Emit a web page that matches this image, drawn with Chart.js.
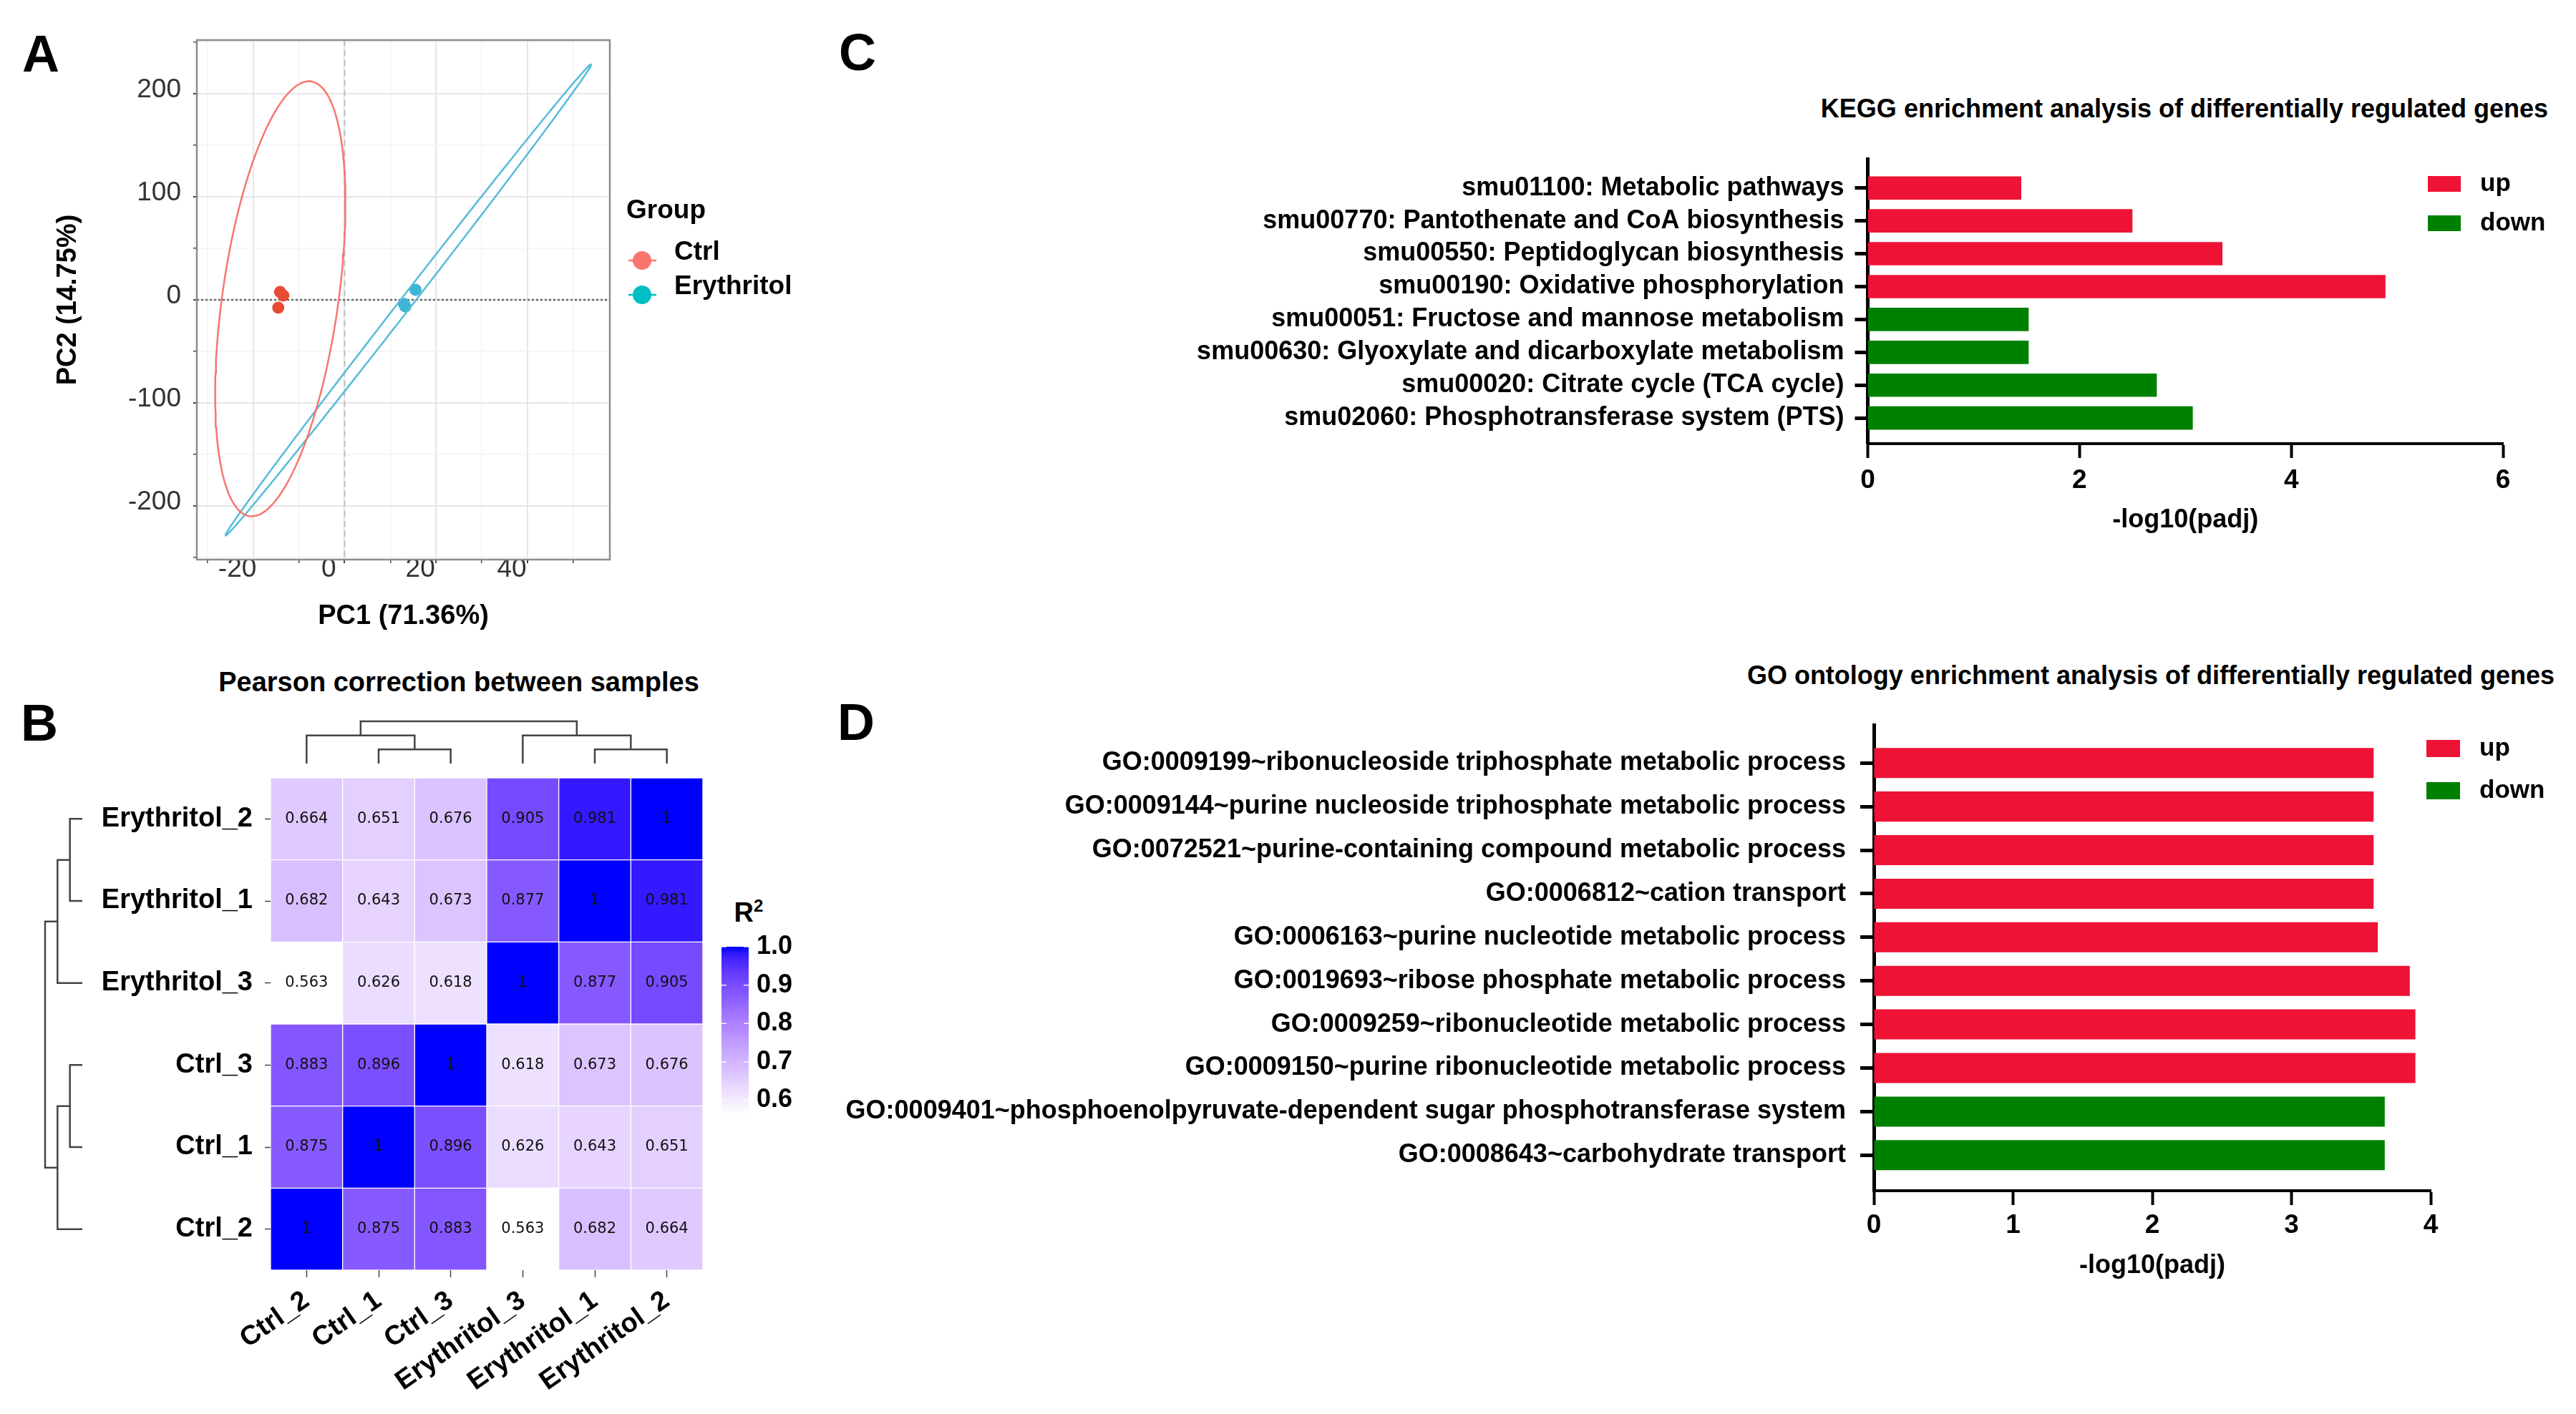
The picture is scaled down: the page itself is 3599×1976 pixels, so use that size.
<!DOCTYPE html>
<html>
<head>
<meta charset="utf-8">
<script src="https://cdn.jsdelivr.net/npm/chart.js@4.4.1/dist/chart.umd.min.js"></script>
<style>
  body { margin: 0; background: #fff; width: 3599px; height: 1976px; position: relative; overflow: hidden;
         font-family: 'Liberation Sans', Arial, sans-serif; }
  canvas { position: absolute; }
  .txt { position: absolute; transform: translate(-50%, -50%); white-space: nowrap; font-weight: bold; line-height: 1; color: #000; }
</style>
</head>
<body>
<div class="txt" style="left:57px;top:75px;font-size:72px">A</div>
<div class="txt" style="left:55px;top:1010px;font-size:72px">B</div>
<div class="txt" style="left:1198px;top:73px;font-size:72px">C</div>
<div class="txt" style="left:1196px;top:1009px;font-size:72px">D</div>
<div class="txt" style="left:641px;top:953px;font-size:38px">Pearson correction between samples</div>
<div class="txt" style="left:3052px;top:152px;font-size:36px">KEGG enrichment analysis of differentially regulated genes</div>
<div class="txt" style="left:3005px;top:944px;font-size:36px">GO ontology enrichment analysis of differentially regulated genes</div>
<div class="txt" style="left:1046px;top:1274px;font-size:38px">R<sup style="font-size:24px;vertical-align:14px">2</sup></div>

<canvas id="pca" style="left:40px;top:0px" width="1160" height="900"></canvas>
<canvas id="heat" style="left:0px;top:1037px" width="1200" height="939"></canvas>
<canvas id="dendTop" style="left:358px;top:995px" width="644" height="85"></canvas>
<canvas id="dendLeft" style="left:50px;top:1070px" width="78" height="722"></canvas>
<canvas id="cbar" style="left:990px;top:1290px" width="210" height="300"></canvas>
<canvas id="kegg" style="left:1150px;top:100px" width="2449" height="700"></canvas>
<canvas id="go" style="left:1100px;top:900px" width="2499" height="1076"></canvas>

<script>
// ---------- A: PCA ----------
const pcaGroups = ['Ctrl', 'Erythritol'];
const ctrlPC1 = [-14.1, -13.4, -14.5];
const ctrlPC2 = [7.6, 4.2, -7.6];
const eryPC1 = [13.0, 13.3, 15.5];
const eryPC2 = [-4.0, -6.5, 9.7];
const pcaXTicks = [-20, 0, 20, 40];
const pcaYTicks = [-200, -100, 0, 100, 200];
const pcaXRange = [-32.3, 58];
const pcaYRange = [-252, 252];
// confidence ellipses: centre, then two conjugate semi-axes (data units)
const ctrlEllipse = [[-14.05, 1], [6.25, 211], [12.8, 0]];
const eryEllipse = [[13.95, 0], [39.95, 228.6], [1.7, 0]];

// ---------- B: correlation heatmap ----------
const sampleCols = ['Ctrl_2', 'Ctrl_1', 'Ctrl_3', 'Erythritol_3', 'Erythritol_1', 'Erythritol_2'];
const sampleRows = ['Erythritol_2', 'Erythritol_1', 'Erythritol_3', 'Ctrl_3', 'Ctrl_1', 'Ctrl_2'];
const r2Erythritol2 = [0.664, 0.651, 0.676, 0.905, 0.981, 1];
const r2Erythritol1 = [0.682, 0.643, 0.673, 0.877, 1, 0.981];
const r2Erythritol3 = [0.563, 0.626, 0.618, 1, 0.877, 0.905];
const r2Ctrl3 = [0.883, 0.896, 1, 0.618, 0.673, 0.676];
const r2Ctrl1 = [0.875, 1, 0.896, 0.626, 0.643, 0.651];
const r2Ctrl2 = [1, 0.875, 0.883, 0.563, 0.682, 0.664];
const r2Ticks = [0.6, 0.7, 0.8, 0.9, 1.0];
// hclust style merges: negative = leaf (1-based), positive = earlier merge
const rowMerge = [[-1, -2], [-3, 1], [-4, -5], [-6, 3], [2, 4]];
const rowHeight = [1, 2, 1, 2, 3];
const colMerge = [[-2, -3], [-1, 1], [-5, -6], [-4, 3], [2, 4]];
const colHeight = [1, 2, 1, 2, 3];

// ---------- C: KEGG ----------
const keggTerms = ['smu01100: Metabolic pathways', 'smu00770: Pantothenate and CoA biosynthesis',
  'smu00550: Peptidoglycan biosynthesis', 'smu00190: Oxidative phosphorylation',
  'smu00051: Fructose and mannose metabolism', 'smu00630: Glyoxylate and dicarboxylate metabolism',
  'smu00020: Citrate cycle (TCA cycle)', 'smu02060: Phosphotransferase system (PTS)'];
const keggUp = [1.45, 2.50, 3.35, 4.89, null, null, null, null];
const keggDown = [null, null, null, null, 1.52, 1.52, 2.73, 3.07];

// ---------- D: GO ----------
const goTerms = ['GO:0009199~ribonucleoside triphosphate metabolic process',
  'GO:0009144~purine nucleoside triphosphate metabolic process',
  'GO:0072521~purine-containing compound metabolic process',
  'GO:0006812~cation transport',
  'GO:0006163~purine nucleotide metabolic process',
  'GO:0019693~ribose phosphate metabolic process',
  'GO:0009259~ribonucleotide metabolic process',
  'GO:0009150~purine ribonucleotide metabolic process',
  'GO:0009401~phosphoenolpyruvate-dependent sugar phosphotransferase system',
  'GO:0008643~carbohydrate transport'];
const goUp = [3.59, 3.59, 3.59, 3.59, 3.62, 3.85, 3.89, 3.89, null, null];
const goDown = [null, null, null, null, null, null, null, null, 3.67, 3.67];

const upColor = '#EE1234';
const downColor = '#008000';

Chart.defaults.font.family = "'Liberation Sans', Arial, sans-serif";
Chart.defaults.color = '#000';
Chart.defaults.animation = false;

// ---------------- helpers ----------------
function ellipsePts(e) {
  const [c, u, v] = e, pts = [];
  for (let k = 0; k <= 180; k++) {
    const t = k / 180 * 2 * Math.PI;
    pts.push({x: c[0] + u[0] * Math.cos(t) + v[0] * Math.sin(t), y: c[1] + u[1] * Math.cos(t) + v[1] * Math.sin(t)});
  }
  return pts;
}
const zip = (xs, ys) => xs.map((x, i) => ({x: x, y: ys[i]}));

// majors plus ggplot-like minor lines halfway between them
function withMinors(major, range) {
  const step = major[1] - major[0], out = [];
  for (let v = major[0] - step / 2; v <= major[major.length - 1] + step / 2 + 1e-9; v += step / 2) {
    if (v > range[0] && v < range[1]) out.push(v);
  }
  return out;
}

// white -> blue in CIE Lab, like scale_fill_gradient
function toLin(c) { c /= 255; return c <= 0.04045 ? c / 12.92 : Math.pow((c + 0.055) / 1.055, 2.4); }
function toSrgb(c) { c = Math.min(1, Math.max(0, c)); return Math.round(255 * (c <= 0.0031308 ? 12.92 * c : 1.055 * Math.pow(c, 1 / 2.4) - 0.055)); }
function rgb2lab(rgb) {
  const [r, g, b] = rgb.map(toLin);
  const X = (0.4124 * r + 0.3576 * g + 0.1805 * b) / 0.95047;
  const Y = 0.2126 * r + 0.7152 * g + 0.0722 * b;
  const Z = (0.0193 * r + 0.1192 * g + 0.9505 * b) / 1.08883;
  const f = t => t > 0.008856 ? Math.cbrt(t) : 7.787 * t + 16 / 116;
  return [116 * f(Y) - 16, 500 * (f(X) - f(Y)), 200 * (f(Y) - f(Z))];
}
function lab2rgb(lab) {
  const fy = (lab[0] + 16) / 116, fx = fy + lab[1] / 500, fz = fy - lab[2] / 200;
  const inv = t => t * t * t > 0.008856 ? t * t * t : (t - 16 / 116) / 7.787;
  const X = inv(fx) * 0.95047, Y = inv(fy), Z = inv(fz) * 1.08883;
  return [3.2406 * X - 1.5372 * Y - 0.4986 * Z, -0.9689 * X + 1.8758 * Y + 0.0415 * Z, 0.0557 * X - 0.2040 * Y + 1.0570 * Z].map(toSrgb);
}
const labLow = rgb2lab([255, 255, 255]), labHigh = rgb2lab([0, 0, 255]);
const r2Matrix = [r2Erythritol2, r2Erythritol1, r2Erythritol3, r2Ctrl3, r2Ctrl1, r2Ctrl2];
const r2Min = Math.min(...r2Matrix.flat()), r2Max = Math.max(...r2Matrix.flat());
function r2Color(v) {
  const t = Math.max(0, Math.min(1, (v - r2Min) / (r2Max - r2Min)));
  const c = lab2rgb(labLow.map((l, i) => l + (labHigh[i] - l) * t));
  return 'rgb(' + c.join(',') + ')';
}

function dendroSegments(merge, heights) {
  const pos = [];
  const nodePos = id => id < 0 ? -id - 1 : pos[id - 1];
  const nodeH = id => id < 0 ? 0 : heights[id - 1];
  return merge.map((m, i) => {
    const [a, b] = m;
    pos[i] = (nodePos(a) + nodePos(b)) / 2;
    return [[nodePos(a), nodeH(a)], [nodePos(a), heights[i]], [nodePos(b), heights[i]], [nodePos(b), nodeH(b)]];
  });
}

// ---------------- A ----------------
const pcaPlugin = {
  id: 'pcaExtras',
  beforeDatasetsDraw(chart) {
    const {ctx, chartArea: a, scales: {x, y}} = chart;
    ctx.save();
    ctx.lineWidth = 2;
    ctx.strokeStyle = '#BDBDBD';
    ctx.setLineDash([8, 6]);
    ctx.beginPath(); ctx.moveTo(x.getPixelForValue(0), a.top); ctx.lineTo(x.getPixelForValue(0), a.bottom); ctx.stroke();
    ctx.strokeStyle = '#666';
    ctx.lineWidth = 2.5;
    ctx.setLineDash([3, 3]);
    ctx.beginPath(); ctx.moveTo(a.left, y.getPixelForValue(0)); ctx.lineTo(a.right, y.getPixelForValue(0)); ctx.stroke();
    ctx.restore();
  },
  afterDraw(chart) {
    const {ctx, chartArea: a} = chart;
    ctx.save();
    ctx.strokeStyle = '#8C8C8C';
    ctx.lineWidth = 2.5;
    ctx.strokeRect(a.left, a.top, a.right - a.left, a.bottom - a.top);
    // legend
    const keyColors = ['#F8766D', '#00BFC4'];
    ctx.fillStyle = '#000';
    ctx.textBaseline = 'middle';
    ctx.font = "bold 37px 'Liberation Sans'";
    ctx.fillText('Group', a.right + 23, 295);
    pcaGroups.forEach((g, i) => {
      const ky = 364 + i * 48;
      ctx.strokeStyle = keyColors[i]; ctx.lineWidth = 2.5;
      ctx.beginPath(); ctx.moveTo(a.right + 26, ky); ctx.lineTo(a.right + 65, ky); ctx.stroke();
      ctx.fillStyle = keyColors[i];
      ctx.beginPath(); ctx.arc(a.right + 45, ky, 13, 0, 2 * Math.PI); ctx.fill();
      ctx.fillStyle = '#000';
      ctx.fillText(g, a.right + 90, ky - 11);
    });
    ctx.restore();
  }
};

const pcaGrid = major => ({
  drawTicks: true, tickLength: 5, tickColor: '#444',
  color: ctx => major.includes(ctx.tick.value) ? '#E6E6E6' : '#F3F3F3',
  lineWidth: ctx => major.includes(ctx.tick.value) ? 2 : 1.5
});

new Chart(document.getElementById('pca'), {
  type: 'scatter',
  data: {
    datasets: [
      {label: 'Ctrl ellipse', data: ellipsePts(ctrlEllipse), showLine: true, borderColor: '#F8766D', borderWidth: 2.5, pointRadius: 0, tension: 0},
      {label: 'Erythritol ellipse', data: ellipsePts(eryEllipse), showLine: true, borderColor: '#55BCD9', borderWidth: 2.5, pointRadius: 0, tension: 0},
      {label: pcaGroups[0], data: zip(ctrlPC1, ctrlPC2), backgroundColor: '#E64B35', pointRadius: 8.5, borderWidth: 0},
      {label: pcaGroups[1], data: zip(eryPC1, eryPC2), backgroundColor: '#3DB5D3', pointRadius: 8.5, borderWidth: 0}
    ]
  },
  options: {
    responsive: false,
    layout: {padding: {left: 0, top: 56, right: 348, bottom: 0}},
    plugins: {legend: {display: false}, tooltip: {enabled: false}},
    scales: {
      x: {
        type: 'linear', min: pcaXRange[0], max: pcaXRange[1],
        afterFit: s => { s.height = 118; },
        afterBuildTicks: s => { s.ticks = withMinors(pcaXTicks, pcaXRange).map(v => ({value: v})); },
        ticks: {callback: v => pcaXTicks.includes(v) ? String(v) : '', font: {size: 37, lineHeight: 0.7}, color: '#333', padding: -4, labelOffset: -22, maxRotation: 0, autoSkip: false},
        grid: pcaGrid(pcaXTicks),
        border: {display: false},
        title: {display: true, text: 'PC1 (71.36%)', font: {size: 38, weight: 'bold'}, padding: {top: 0, bottom: 16}}
      },
      y: {
        type: 'linear', min: pcaYRange[0], max: pcaYRange[1],
        afterFit: s => { s.width = 235; },
        afterBuildTicks: s => { s.ticks = withMinors(pcaYTicks, pcaYRange).map(v => ({value: v})); },
        ticks: {callback: v => pcaYTicks.includes(v) ? String(v) : '', font: {size: 37}, color: '#333', padding: 17, labelOffset: -5, autoSkip: false},
        grid: pcaGrid(pcaYTicks),
        border: {display: false},
        title: {display: true, text: 'PC2 (14.75%)', font: {size: 38, weight: 'bold'}, padding: {top: 33, bottom: 0}}
      }
    }
  },
  plugins: [pcaPlugin]
});

// ---------------- B: heatmap ----------------
const cellText = {
  id: 'cellText',
  afterDatasetsDraw(chart) {
    const ctx = chart.ctx;
    ctx.save();
    ctx.font = "21px 'DejaVu Sans'";
    ctx.fillStyle = '#111';
    ctx.textAlign = 'center';
    ctx.textBaseline = 'middle';
    chart.data.datasets.forEach((ds, r) => {
      chart.getDatasetMeta(r).data.forEach((bar, c) => {
        ctx.fillText(String(r2Matrix[r][c]), bar.x, (bar.y + bar.base) / 2);
      });
    });
    ctx.restore();
  }
};

new Chart(document.getElementById('heat'), {
  type: 'bar',
  data: {
    labels: sampleCols,
    datasets: sampleRows.map((name, r) => ({
      label: name,
      data: sampleCols.map(() => [r - 0.5, r + 0.5]),
      backgroundColor: ctx => r2Color(r2Matrix[r][ctx.dataIndex]),
      borderColor: 'rgba(255,255,255,0.35)',
      borderWidth: 1,
      borderSkipped: false,
      grouped: false,
      barPercentage: 1,
      categoryPercentage: 1
    }))
  },
  options: {
    responsive: false,
    layout: {padding: {left: 0, top: 50, right: 218, bottom: 0}},
    plugins: {legend: {display: false}, tooltip: {enabled: false}},
    scales: {
      x: {
        afterFit: s => { s.height = 201; },
        ticks: {font: {size: 38, weight: 'bold'}, minRotation: 35, maxRotation: 35, padding: 10, autoSkip: false},
        grid: {drawOnChartArea: false, offset: false, tickLength: 10, tickColor: '#444', tickWidth: 1.5},
        border: {display: false}
      },
      y: {
        type: 'linear', min: -0.5, max: 5.5, reverse: true, offset: false,
        afterFit: s => { s.width = 378; },
        afterBuildTicks: s => { s.ticks = sampleRows.map((n, i) => ({value: i})); },
        ticks: {callback: v => sampleRows[v], font: {size: 38, weight: 'bold'}, padding: 17, autoSkip: false},
        grid: {drawOnChartArea: false, tickLength: 8, tickColor: '#444', tickWidth: 1.5},
        border: {display: false}
      }
    }
  },
  plugins: [cellText]
});

const dendroStyle = {showLine: true, borderColor: '#444', borderWidth: 2.5, pointRadius: 0, tension: 0, clip: false};
const hidden = (min, max, reverse) => ({type: 'linear', min: min, max: max, reverse: !!reverse, display: false});

new Chart(document.getElementById('dendTop'), {
  type: 'scatter',
  data: {datasets: dendroSegments(colMerge, colHeight).map(s => Object.assign({data: s.map(p => ({x: p[0], y: p[1]}))}, dendroStyle))},
  options: {
    responsive: false,
    layout: {padding: {left: 20, right: 20, top: 13, bottom: 13}},
    plugins: {legend: {display: false}, tooltip: {enabled: false}},
    scales: {x: hidden(-0.5, 5.5), y: hidden(0, 3)}
  }
});

new Chart(document.getElementById('dendLeft'), {
  type: 'scatter',
  data: {datasets: dendroSegments(rowMerge, rowHeight).map(s => Object.assign({data: s.map(p => ({x: p[1], y: p[0]}))}, dendroStyle))},
  options: {
    responsive: false,
    layout: {padding: {left: 13, right: 13, top: 17, bottom: 17}},
    plugins: {legend: {display: false}, tooltip: {enabled: false}},
    scales: {x: hidden(0, 3, true), y: hidden(-0.5, 5.5, true)}
  }
});

// colour bar
const cbarTicks = {
  id: 'cbarTicks',
  afterDatasetsDraw(chart) {
    const {ctx, chartArea: a, scales: {y}} = chart;
    ctx.save();
    ctx.strokeStyle = 'rgba(255,255,255,0.9)';
    ctx.lineWidth = 1.5;
    r2Ticks.forEach(v => {
      const py = y.getPixelForValue(v);
      ctx.beginPath();
      ctx.moveTo(a.left, py); ctx.lineTo(a.left + 7, py);
      ctx.moveTo(a.right - 7, py); ctx.lineTo(a.right, py);
      ctx.stroke();
    });
    ctx.restore();
  }
};

new Chart(document.getElementById('cbar'), {
  type: 'bar',
  data: {
    labels: ['R2'],
    datasets: [{
      data: [[r2Min, r2Max]],
      barPercentage: 1, categoryPercentage: 1,
      backgroundColor: ctx => {
        const a = ctx.chart.chartArea;
        if (!a || !isFinite(a.top) || !isFinite(a.bottom)) return '#8080ff';
        const g = ctx.chart.ctx.createLinearGradient(0, a.bottom, 0, a.top);
        for (let k = 0; k <= 20; k++) g.addColorStop(k / 20, r2Color(r2Min + (r2Max - r2Min) * k / 20));
        return g;
      }
    }]
  },
  options: {
    responsive: false,
    layout: {padding: {left: 18, top: 33, right: 0, bottom: 26}},
    plugins: {legend: {display: false}, tooltip: {enabled: false}},
    scales: {
      x: {display: false},
      y: {
        type: 'linear', position: 'right', min: r2Min, max: r2Max,
        afterFit: s => { s.width = 154; },
        afterBuildTicks: s => { s.ticks = r2Ticks.map(v => ({value: v})); },
        ticks: {callback: v => v.toFixed(1), font: {size: 36, weight: 'bold'}, padding: 11},
        grid: {display: false, drawTicks: false},
        border: {display: false}
      }
    }
  },
  plugins: [cbarTicks]
});

// ---------------- C & D: enrichment bars ----------------
function barLegend(pos) {
  return {
    id: 'barLegend',
    afterDraw(chart) {
      const ctx = chart.ctx;
      ctx.save();
      ctx.font = "bold 35px 'Liberation Sans'";
      ctx.textBaseline = 'middle';
      chart.data.datasets.forEach((ds, i) => {
        const y = pos.y + i * pos.gap;
        ctx.fillStyle = ds.backgroundColor;
        ctx.fillRect(pos.x, y, pos.w, pos.h);
        ctx.fillStyle = '#000';
        ctx.fillText(ds.label, pos.x + pos.textDx, y + pos.h / 2);
      });
      ctx.restore();
    }
  };
}

function enrichChart(id, terms, up, down, c) {
  const toPts = arr => arr.map((v, i) => v == null ? null : {x: v, y: i}).filter(p => p);
  const barOpts = {grouped: false, barPercentage: c.barPct, categoryPercentage: 1};
  new Chart(document.getElementById(id), {
    type: 'bar',
    data: {
      datasets: [
        Object.assign({label: 'up', data: toPts(up), backgroundColor: upColor}, barOpts),
        Object.assign({label: 'down', data: toPts(down), backgroundColor: downColor}, barOpts)
      ]
    },
    options: {
      indexAxis: 'y',
      responsive: false,
      layout: {padding: c.pad},
      plugins: {legend: {display: false}, tooltip: {enabled: false}},
      scales: {
        x: {
          type: 'linear', min: 0, max: c.xMax,
          afterFit: s => { s.height = c.xAxisH; },
          ticks: {stepSize: c.xStep, font: {size: 37, weight: 'bold', lineHeight: 1}, padding: c.xLabelPad},
          grid: {drawOnChartArea: false, tickLength: 20, tickWidth: 4, tickColor: '#000'},
          border: {display: true, width: 4, color: '#000'},
          title: {display: true, text: '-log10(padj)', font: {size: 36, weight: 'bold'}, padding: {top: 0, bottom: c.titlePad}}
        },
        y: {
          type: 'linear', reverse: true, min: c.yMin, max: c.yMax, offset: false,
          afterFit: s => { s.width = c.yAxisW; },
          afterBuildTicks: s => { s.ticks = terms.map((t, i) => ({value: i})); },
          ticks: {callback: v => terms[v], font: {size: 36, weight: 'bold'}, padding: c.yLabelPad, autoSkip: false},
          grid: {drawOnChartArea: false, offset: false, tickLength: c.yTickLen, tickWidth: 5, tickColor: '#000'},
          border: {display: true, width: 5, color: '#000'}
        }
      }
    },
    plugins: [barLegend(c.legend)]
  });
}

enrichChart('kegg', keggTerms, keggUp, keggDown, {
  xMax: 6, xStep: 2, yMin: -0.886, yMax: 7.78, barPct: 0.71,
  pad: {left: 0, top: 122, right: 102, bottom: 0},
  yAxisW: 1459.5, xAxisH: 180, xLabelPad: 13, titlePad: 51, yLabelPad: 15, yTickLen: 18,
  legend: {x: 2242, y: 146, w: 46, h: 22, gap: 55, textDx: 73}
});

enrichChart('go', goTerms, goUp, goDown, {
  xMax: 4, xStep: 1, yMin: -0.874, yMax: 9.816, barPct: 0.69,
  pad: {left: 0, top: 113, right: 203, bottom: 132},
  yAxisW: 1518, xAxisH: 180, xLabelPad: 10, titlePad: 53, yLabelPad: 20, yTickLen: 19,
  legend: {x: 2290, y: 134, w: 47, h: 24, gap: 59, textDx: 74}
});
</script>
</body>
</html>
